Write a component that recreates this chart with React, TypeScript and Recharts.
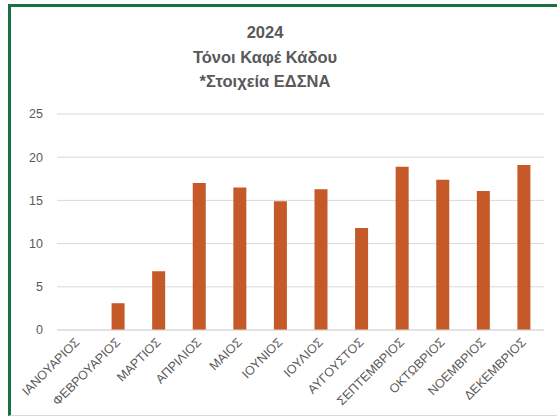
import React from "react";
import { Bar, BarChart, CartesianGrid, XAxis, YAxis } from "recharts";

const months = [
  "ΙΑΝΟΥΑΡΙΟΣ",
  "ΦΕΒΡΟΥΑΡΙΟΣ",
  "ΜΑΡΤΙΟΣ",
  "ΑΠΡΙΛΙΟΣ",
  "ΜΑΙΟΣ",
  "ΙΟΥΝΙΟΣ",
  "ΙΟΥΛΙΟΣ",
  "ΑΥΓΟΥΣΤΟΣ",
  "ΣΕΠΤΕΜΒΡΙΟΣ",
  "ΟΚΤΩΒΡΙΟΣ",
  "ΝΟΕΜΒΡΙΟΣ",
  "ΔΕΚΕΜΒΡΙΟΣ",
];

const tonnes = [0, 3.1, 6.8, 17.0, 16.5, 14.9, 16.3, 11.8, 18.9, 17.4, 16.1, 19.1];

const yTicks = [0, 5, 10, 15, 20, 25];

const titleLines = ["2024", "Τόνοι Καφέ Κάδου", "*Στοιχεία ΕΔΣΝΑ"];

const data = months.map((month, i) => ({ month, value: tonnes[i] }));

const FONT = "'Liberation Sans', Arial, sans-serif";
const TEXT = "#595959";
const GRID = "#d9d9d9";

function MonthTick(props: any) {
  const { x, y, payload } = props;
  const tx = x + 3;
  const ty = y + 11;
  return (
    <text
      x={tx}
      y={ty}
      transform={`rotate(-45 ${tx} ${ty})`}
      textAnchor="end"
      fill={TEXT}
      fontSize={12.5}
      fontFamily={FONT}
    >
      {payload.value}
    </text>
  );
}

export default function App() {
  return (
    <div
      style={{
        position: "fixed",
        left: 0,
        top: 0,
        width: 557,
        height: 418,
        background: "#fff",
        overflow: "hidden",
        fontFamily: FONT,
      }}
    >
      <div
        style={{
          position: "absolute",
          left: 8,
          top: 4,
          width: 600,
          height: 412,
          borderTop: "3px solid #17703f",
          borderLeft: "3px solid #17703f",
          borderBottom: "1px solid #d9d9d9",
          boxSizing: "border-box",
        }}
      />
      {titleLines.map((line, i) => (
        <div
          key={line}
          style={{
            position: "absolute",
            left: 165,
            width: 200,
            top: 22 + i * 24.5,
            textAlign: "center",
            fontSize: 16.5,
            fontWeight: "bold",
            color: TEXT,
            lineHeight: "20px",
          }}
        >
          {line}
        </div>
      ))}
      <div style={{ position: "absolute", left: 0, top: 0 }}>
        <BarChart
          width={557}
          height={418}
          data={data}
          margin={{ top: 114, right: 13, bottom: 8, left: 0 }}
        >
          <CartesianGrid vertical={false} stroke={GRID} strokeWidth={1} />
          <XAxis
            dataKey="month"
            interval={0}
            height={80}
            tickLine={false}
            tickSize={0}
            axisLine={{ stroke: GRID }}
            tick={<MonthTick />}
          />
          <YAxis
            width={57}
            domain={[0, 25]}
            ticks={yTicks}
            axisLine={false}
            tickLine={false}
            tickSize={0}
            tickMargin={14}
            tick={{ fill: TEXT, fontSize: 12.5, fontFamily: FONT }}
          />
          <Bar dataKey="value" fill="#c55a28" barSize={13} isAnimationActive={false} />
        </BarChart>
      </div>
    </div>
  );
}
